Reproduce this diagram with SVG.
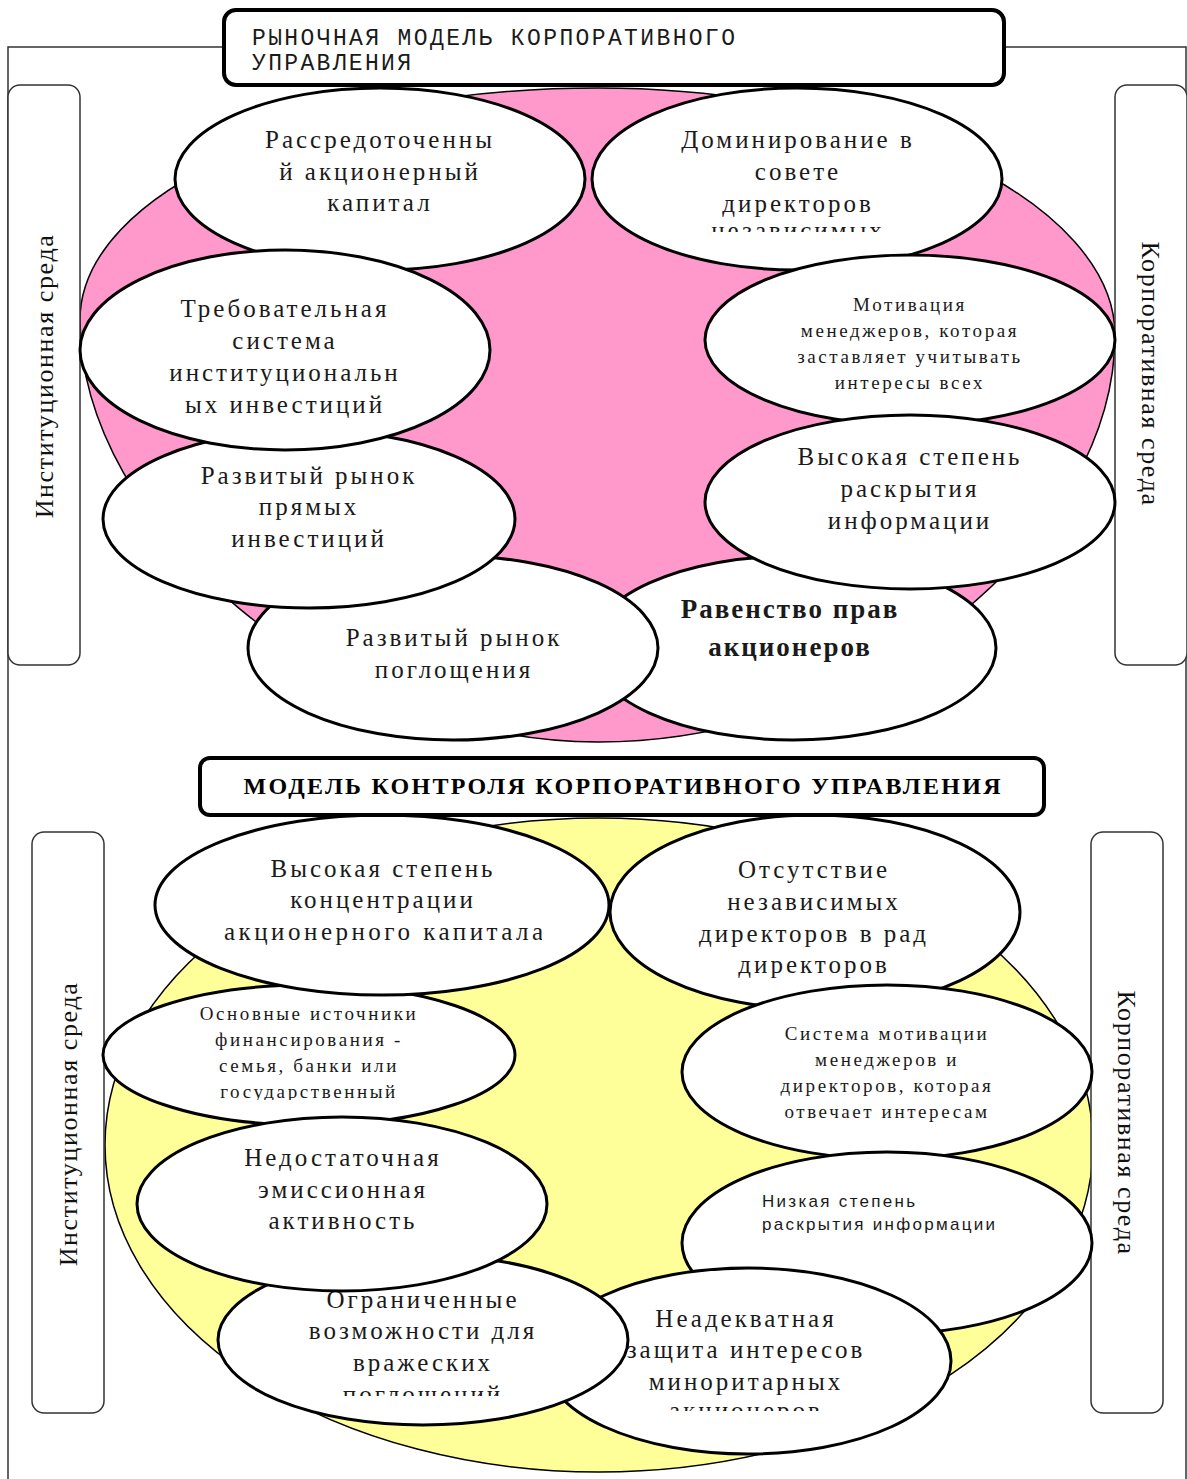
<svg xmlns="http://www.w3.org/2000/svg" width="1187" height="1479" viewBox="0 0 1187 1479">
<style>
.el{fill:#fff;stroke:#000;stroke-width:3}
.t{font-family:"Liberation Serif","Times New Roman",serif;font-size:25px;letter-spacing:3px;fill:#1a1a1a;text-anchor:middle}
.s{font-size:19px;letter-spacing:2.6px}
.side{fill:#fff;stroke:#333;stroke-width:1.5}
.sl{font-family:"Liberation Serif","Times New Roman",serif;font-size:26px;fill:#111;text-anchor:middle;letter-spacing:1.6px}
.hdr{fill:#fff;stroke:#000;stroke-width:4}
.mono{font-family:"Liberation Mono","Courier New",monospace;font-size:23px;fill:#1a1a1a}
.sans{font-family:"Liberation Sans",Arial,sans-serif;font-size:17px;letter-spacing:2.3px;fill:#1a1a1a}
</style>
<defs>
<clipPath id="c2"><rect x="590" y="100" width="420" height="132"/></clipPath>
<clipPath id="cb1"><rect x="150" y="840" width="392" height="160"/></clipPath>
<clipPath id="cb3"><rect x="100" y="995" width="420" height="105"/></clipPath>
<clipPath id="cb7"><rect x="215" y="1260" width="420" height="136"/></clipPath>
<clipPath id="cb8"><rect x="540" y="1290" width="420" height="121"/></clipPath>
</defs>
<rect width="1187" height="1479" fill="#fff"/>
<path d="M8,1479 V47 H1186 V1479" fill="none" stroke="#333" stroke-width="1.5"/>

<g id="top-area">
<path d="M80,320 C80,192 312,88 598,88 C884,88 1115,205 1115,335 C1115,535 876,742 598,742 C330,742 80,525 80,320 Z" fill="#FF99CC" stroke="#000" stroke-width="1.5"/>
</g>

<g id="side-inst-top"><rect class="side" x="8" y="85" width="72" height="580" rx="12"/>
<text class="sl" transform="translate(53,376) rotate(-90)">Институционная среда</text></g>
<g id="side-corp-top"><rect class="side" x="1115" y="85" width="72" height="580" rx="12"/>
<text class="sl" transform="translate(1142,374) rotate(90)">Корпоративная среда</text></g>

<g id="t2"><ellipse class="el" cx="797" cy="179" rx="205" ry="91"/>
<g clip-path="url(#c2)"><text class="t" x="798" y="148">Доминирование в</text><text class="t" x="798" y="180">совете</text><text class="t" x="798" y="212">директоров</text><text class="t" x="798" y="239">независимых</text></g></g>
<g id="t4"><ellipse class="el" cx="910" cy="340" rx="205" ry="85"/>
<text class="t s" x="910" y="311">Мотивация</text><text class="t s" x="910" y="337">менеджеров, которая</text><text class="t s" x="910" y="363">заставляет учитывать</text><text class="t s" x="910" y="389">интересы всех</text></g>
<g id="t8"><ellipse class="el" cx="793" cy="648" rx="203" ry="92"/>
<text class="t" x="790" y="618" style="font-size:27px;font-weight:bold;letter-spacing:2px">Равенство прав</text><text class="t" x="790" y="656" style="font-size:27px;font-weight:bold;letter-spacing:2px">акционеров</text></g>
<g id="t6"><ellipse class="el" cx="910" cy="502" rx="205" ry="87"/>
<text class="t" x="910" y="465">Высокая степень</text><text class="t" x="910" y="497">раскрытия</text><text class="t" x="910" y="529">информации</text></g>
<g id="t1"><ellipse class="el" cx="380" cy="179" rx="205" ry="91"/>
<text class="t" x="380" y="148">Рассредоточенны</text><text class="t" x="380" y="180">й акционерный</text><text class="t" x="380" y="211">капитал</text></g>
<g id="t7"><ellipse class="el" cx="453" cy="648" rx="205" ry="92"/>
<text class="t" x="454" y="646">Развитый рынок</text><text class="t" x="454" y="678">поглощения</text></g>
<g id="t5"><ellipse class="el" cx="309" cy="519" rx="206" ry="89"/>
<text class="t" x="309" y="484">Развитый рынок</text><text class="t" x="309" y="515">прямых</text><text class="t" x="309" y="547">инвестиций</text></g>
<g id="t3"><ellipse class="el" cx="285" cy="350" rx="205" ry="100"/>
<text class="t" x="285" y="317">Требовательная</text><text class="t" x="285" y="349">система</text><text class="t" x="285" y="381">институциональн</text><text class="t" x="285" y="413">ых инвестиций</text></g>

<g id="title-top"><rect class="hdr" x="224" y="10" width="780" height="75" rx="12"/>
<text class="mono" x="252" y="45" textLength="483" lengthAdjust="spacing">РЫНОЧНАЯ МОДЕЛЬ КОРПОРАТИВНОГО</text>
<text class="mono" x="252" y="70" textLength="159" lengthAdjust="spacing">УПРАВЛЕНИЯ</text></g>

<g id="bottom-area">
<ellipse cx="599" cy="1145" rx="494" ry="327" fill="#FFFF99" stroke="#000" stroke-width="1.5"/>
</g>

<g id="side-inst-bottom"><rect class="side" x="32" y="832" width="72" height="581" rx="12"/>
<text class="sl" transform="translate(77,1124) rotate(-90)">Институционная среда</text></g>
<g id="side-corp-bottom"><rect class="side" x="1091" y="832" width="72" height="581" rx="12"/>
<text class="sl" transform="translate(1118,1123) rotate(90)">Корпоративная среда</text></g>

<g id="b2"><ellipse class="el" cx="815" cy="912" rx="205" ry="97"/>
<text class="t" x="814" y="878">Отсутствие</text><text class="t" x="814" y="910">независимых</text><text class="t" x="814" y="942">директоров в рад</text><text class="t" x="814" y="973">директоров</text></g>
<g id="b4"><ellipse class="el" cx="887" cy="1072" rx="205" ry="87"/>
<text class="t s" x="887" y="1040">Система мотивации</text><text class="t s" x="887" y="1066">менеджеров и</text><text class="t s" x="887" y="1092">директоров, которая</text><text class="t s" x="887" y="1118">отвечает интересам</text></g>
<g id="b6"><ellipse class="el" cx="887" cy="1243" rx="205" ry="91"/>
<text class="sans" x="762" y="1207">Низкая степень</text>
<text class="sans" x="762" y="1230">раскрытия информации</text></g>
<g id="b8"><ellipse class="el" cx="748" cy="1361" rx="203" ry="93"/>
<g clip-path="url(#cb8)"><text class="t" x="746" y="1327">Неадекватная</text><text class="t" x="746" y="1358">защита интересов</text><text class="t" x="746" y="1390">миноритарных</text><text class="t" x="746" y="1419">акционеров</text></g></g>
<g id="b7"><ellipse class="el" cx="423" cy="1340" rx="205" ry="85"/>
<g clip-path="url(#cb7)"><text class="t" x="423" y="1308">Ограниченные</text><text class="t" x="423" y="1339">возможности для</text><text class="t" x="423" y="1371">вражеских</text><text class="t" x="423" y="1403">поглощений</text></g></g>
<g id="b3"><ellipse class="el" cx="309" cy="1055" rx="206" ry="70"/>
<g clip-path="url(#cb3)"><text class="t s" x="309" y="1020">Основные источники</text><text class="t s" x="309" y="1046">финансирования -</text><text class="t s" x="309" y="1072">семья, банки или</text><text class="t s" x="309" y="1098">государственный</text></g></g>
<g id="b1"><ellipse class="el" cx="382" cy="905" rx="227" ry="90"/>
<g clip-path="url(#cb1)"><text class="t" x="383" y="877">Высокая степень</text><text class="t" x="383" y="908">концентрации</text><text class="t" x="224" y="940" style="text-anchor:start;letter-spacing:3.5px">акционерного капитала</text></g></g>
<g id="b5"><ellipse class="el" cx="342" cy="1204" rx="205" ry="87"/>
<text class="t" x="343" y="1166">Недостаточная</text><text class="t" x="343" y="1198">эмиссионная</text><text class="t" x="343" y="1229">активность</text></g>

<g id="title-bottom"><rect class="hdr" x="200" y="758" width="844" height="57" rx="10"/>
<text x="622" y="794" text-anchor="middle" font-family="'Liberation Serif','Times New Roman',serif" font-size="24" font-weight="bold" fill="#000" textLength="757" lengthAdjust="spacing">МОДЕЛЬ КОНТРОЛЯ КОРПОРАТИВНОГО УПРАВЛЕНИЯ</text></g>

<g id="connectors"/>
</svg>
